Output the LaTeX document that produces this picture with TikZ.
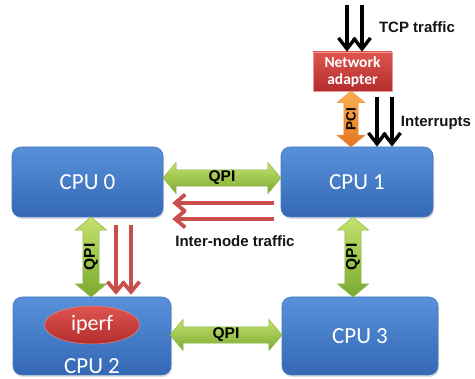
\documentclass[tikz,border=0pt]{standalone}
\usepackage{fontspec}
\setmainfont{Carlito}
\newfontfamily\arialfont{Liberation Sans}
\usetikzlibrary{shapes.arrows,shapes.geometric,arrows.meta,shadows,calc}

\definecolor{cpuTop}{RGB}{88,145,218}
\definecolor{cpuBot}{RGB}{52,104,180}
\definecolor{cpuEdge}{RGB}{70,120,195}
\definecolor{qpiTop}{RGB}{196,226,110}
\definecolor{qpiBot}{RGB}{122,170,48}
\definecolor{qpiEdge}{RGB}{140,180,70}
\definecolor{pciTop}{RGB}{250,175,80}
\definecolor{pciBot}{RGB}{228,118,30}
\definecolor{nicTop}{RGB}{222,85,80}
\definecolor{nicBot}{RGB}{180,45,45}
\definecolor{flowRed}{RGB}{200,78,76}
\definecolor{labelInk}{RGB}{20,20,20}

\begin{document}
\begin{tikzpicture}[x=1pt,y=-1pt,
  cpubox/.style={rounded corners=9pt, top color=cpuTop, bottom color=cpuBot,
    draw=cpuEdge, line width=0.6pt, text=white,
    font=\fontsize{23}{23}\selectfont,
    drop shadow={shadow xshift=1pt, shadow yshift=-2pt, opacity=0.25}},
  fatarrow/.style={double arrow, double arrow tip angle=100, inner sep=0pt,
    line width=0.5pt, text=black, font=\arialfont\bfseries\fontsize{15.5}{15.5}\selectfont},
  qpi/.style={fatarrow, minimum width=31pt, double arrow head extend=6.5pt,
    top color=qpiTop, bottom color=qpiBot, draw=qpiEdge},
  pcilink/.style={fatarrow, minimum width=28pt, double arrow head extend=5pt,
    top color=pciTop, bottom color=pciBot, draw=pciBot!80!white,
    font=\arialfont\bfseries\fontsize{13.5}{13.5}\selectfont},
  blackflow/.style={line width=3.4pt, draw=black,
    -{Straight Barb[length=11pt,width=17pt]}},
  redflow/.style={line width=3.8pt, draw=flowRed,
    -{Straight Barb[length=10pt,width=17pt]}},
  note/.style={anchor=base, text=labelInk,
    font=\arialfont\bfseries\fontsize{15}{15}\selectfont}
]
\useasboundingbox (0,0) rectangle (475,379);

% CPU sockets
\node[cpubox, minimum width=151pt, minimum height=70pt] (cpu0) at (87.5,182) {CPU 0};
\node[cpubox, minimum width=152pt, minimum height=70pt] (cpu1) at (357,182) {CPU 1};
\node[cpubox, minimum width=158pt, minimum height=78pt] (cpu2) at (92,336) {};
\node[cpubox, minimum width=156pt, minimum height=78pt] (cpu3) at (360,336) {CPU 3};
\node[text=white, font=\fontsize{23}{23}\selectfont] (cpu2label) at (92,366) {CPU 2};

% process pinned on CPU 2
\node[ellipse, minimum width=95pt, minimum height=38pt, inner sep=0pt,
  top color=nicTop, bottom color=nicBot, draw=nicTop!70!white, line width=0.5pt,
  text=white, font=\fontsize{22}{22}\selectfont] (iperf) at (92,325) {iperf};

% network adapter
\node[minimum width=79pt, minimum height=39pt, inner sep=0pt,
  top color=nicTop, bottom color=nicBot, draw=nicTop!60!white, line width=0.6pt,
  text=white, align=center, font=\bfseries\fontsize{15.5}{17}\selectfont,
  drop shadow={shadow xshift=1pt, shadow yshift=-1.5pt, opacity=0.25}]
  (nic) at (352.5,71.5) {Network\\adapter};

% QPI links between sockets
\node[qpi, minimum height=118pt] (qpi01) at (222,178) {QPI};
\node[qpi, minimum height=112pt] (qpi23) at (226,335) {QPI};
\node[qpi, minimum height=80pt, rotate=90] (qpi02) at (91,257) {QPI};
\node[qpi, minimum height=80pt, rotate=90] (qpi13) at (353,257) {QPI};

% PCI link between adapter and CPU 1
\node[pcilink, minimum height=56pt, rotate=90] (pci) at (351,119) {PCI};

% incoming TCP traffic
\coordinate (tcpA) at (347,5);
\coordinate (tcpB) at (362,5);
\draw[blackflow] (tcpA) -- (tcpA |- nic.north);
\draw[blackflow] (tcpB) -- (tcpB |- nic.north);
\node[note] (tcplabel) at (417,33) {TCP traffic};

% interrupts delivered to CPU 1
\coordinate (irqA) at (377,97);
\coordinate (irqB) at (392,97);
\draw[blackflow] (irqA) -- (irqA |- cpu1.north);
\draw[blackflow] (irqB) -- (irqB |- cpu1.north);
\node[note] (irqlabel) at (436,127) {Interrupts};

% inter-node traffic CPU 1 -> CPU 0 -> CPU 2
\coordinate (xA) at (274,203);
\coordinate (xB) at (274,219);
\draw[redflow] (xA) -- ($(cpu0.east |- xA)+(9,0)$);
\draw[redflow] (xB) -- ($(cpu0.east |- xB)+(9,0)$);
\coordinate (dA) at (116,225);
\coordinate (dB) at (131,225);
\draw[redflow] (dA) -- ($(dA |- cpu2.north)+(0,-2)$);
\draw[redflow] (dB) -- ($(dB |- cpu2.north)+(0,-2)$);
\node[note] (xlabel) at (235,247) {Inter-node traffic};
\end{tikzpicture}
\end{document}
